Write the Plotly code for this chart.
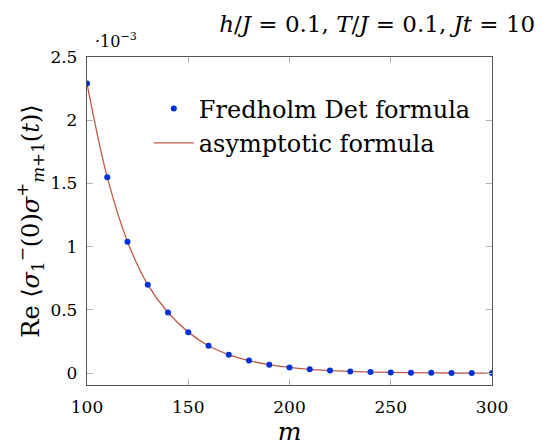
import plotly.graph_objects as go

# Data (values in units of 1e-3, as displayed on the axis)
m_vals = [100, 110, 120, 130, 140, 150, 160, 170, 180, 190, 200,
          210, 220, 230, 240, 250, 260, 270, 280, 290, 300]
fredholm = [2.29, 1.55, 1.04, 0.70, 0.48, 0.325, 0.217, 0.147, 0.10, 0.068, 0.046,
            0.031, 0.021, 0.014, 0.0095, 0.0065, 0.0045, 0.003, 0.002, 0.0014, 0.001]
asymptotic = [2.29, 1.55, 1.04, 0.70, 0.48, 0.325, 0.217, 0.147, 0.10, 0.068, 0.046,
              0.031, 0.021, 0.014, 0.0095, 0.0065, 0.0045, 0.003, 0.002, 0.0014, 0.001]
x_ticks = [100, 150, 200, 250, 300]
y_ticks = [0, 0.5, 1, 1.5, 2, 2.5]
y_tick_labels = ["0", "0.5", "1", "1.5", "2", "2.5"]

SERIF = "DejaVu Serif"

fig = go.Figure()
fig.add_trace(go.Scatter(
    x=m_vals, y=asymptotic, mode="lines", name="asymptotic formula",
    line=dict(color="#c05a46", width=1.3, shape="spline"),
))
fig.add_trace(go.Scatter(
    x=m_vals, y=fredholm, mode="markers", name="Fredholm Det formula",
    marker=dict(color="#0030d8", size=6),
))

fig.update_layout(
    width=545, height=448,
    margin=dict(l=87, r=53, t=57, b=56),
    plot_bgcolor="white", paper_bgcolor="white",
    font=dict(family=SERIF, color="black", size=17),
    showlegend=True,
    legend=dict(
        x=0.96, y=0.91, xanchor="right", yanchor="top",
        bgcolor="rgba(255,255,255,0)", borderwidth=0,
        font=dict(family=SERIF, size=24, color="black"),
        traceorder="reversed", itemwidth=40, tracegroupgap=0,
    ),
    title=dict(
        text="<i>h</i>/<i>J</i> = 0.1, <i>T</i>/<i>J</i> = 0.1, <i>Jt</i> = 10",
        xref="container", x=0.982, xanchor="right",
        yref="container", y=0.946, yanchor="middle",
        font=dict(family=SERIF, size=23, color="black"),
    ),
)
fig.update_xaxes(
    range=[100, 300], tickvals=x_ticks, ticks="inside", ticklen=6,
    tickcolor="#b0b0b0", showline=True, linecolor="#555555", linewidth=1.3,
    mirror="ticks", showgrid=False, zeroline=False,
    tickfont=dict(family=SERIF, size=17), ticklabelstandoff=6,
    title=dict(text="<i>m</i>", font=dict(family=SERIF, size=25), standoff=2),
)
fig.update_yaxes(
    range=[-0.093, 2.5], tickvals=y_ticks, ticktext=y_tick_labels,
    ticks="inside", ticklen=6,
    tickcolor="#b0b0b0", showline=True, linecolor="#555555", linewidth=1.3,
    mirror="ticks", showgrid=False, zeroline=False,
    tickfont=dict(family=SERIF, size=17), ticklabelstandoff=5,
    title=dict(
        text="Re ⟨<i>σ</i><sub>1</sub><sup>−</sup>(0)<i>σ</i><sup>+</sup><sub><i>m</i>+1</sub>(<i>t</i>)⟩",
        font=dict(family=SERIF, size=24), standoff=4,
    ),
)
fig.add_annotation(
    text="·10<sup>−3</sup>", xref="paper", yref="paper",
    x=0.015, y=1.012, xanchor="left", yanchor="bottom", showarrow=False,
    font=dict(family=SERIF, size=16, color="black"),
)
fig.write_html("out.html")
